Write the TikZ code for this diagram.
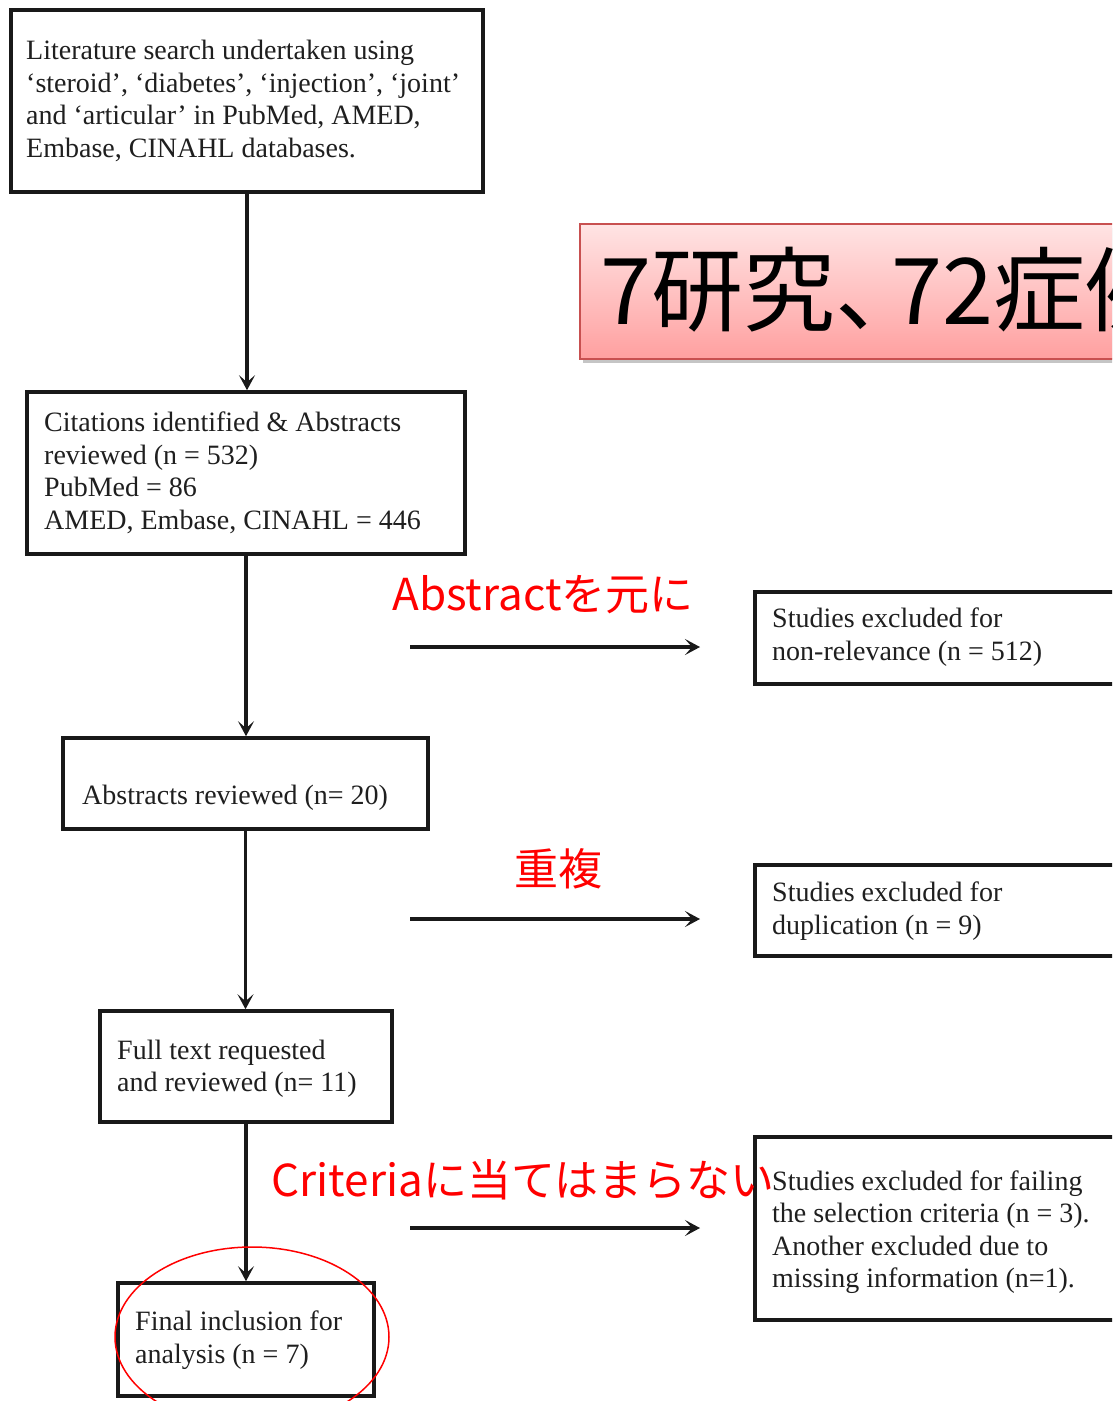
\documentclass[tikz,border=0pt]{standalone}
\usepackage{fontspec}
\setmainfont{Liberation Serif}
\newfontfamily\cjk{Noto Sans CJK JP}
\usetikzlibrary{arrows.meta,shadows,shapes.geometric}
\definecolor{bantop}{RGB}{255,228,228}
\definecolor{banbot}{RGB}{255,160,160}
\definecolor{banedge}{RGB}{200,80,80}
\begin{document}
\begin{tikzpicture}[x=1pt,y=-1pt,
  box/.style={draw=black!90, line width=3.6pt, inner sep=0pt},
  txt/.style={anchor=west, inner sep=0pt, align=left, font=\fontsize{28}{32.5}\selectfont, text=black!88},
  flow/.style={line width=3.4pt, draw=black!90, -{Stealth[length=15pt,width=16pt,inset=7pt]}},
  redlbl/.style={text=red, font=\cjk\fontsize{44}{50}\selectfont, inner sep=0pt}
]
\useasboundingbox (0,0) rectangle (1112,1401);
\clip (0,0) rectangle (1112,1401);
\fill[white] (0,0) rectangle (1112,1401);

% left column boxes
\node[box, minimum width=472pt, minimum height=182pt] (b1) at (247,101) {};
\node[txt] (t1) at (26,101) {Literature search undertaken using\\ ‘steroid’, ‘diabetes’, ‘injection’, ‘joint’\\ and ‘articular’ in PubMed, AMED,\\ Embase, CINAHL databases.};

\node[box, minimum width=438pt, minimum height=162pt] (b2) at (246,473) {};
\node[txt] (t2) at (44,473) {Citations identified \& Abstracts\\ reviewed (n = 532)\\ PubMed = 86\\ AMED, Embase, CINAHL = 446};

\node[box, minimum width=365pt, minimum height=91pt] (b3) at (245.5,783.5) {};
\node[txt] (t3) at (82,798) {Abstracts reviewed (n= 20)};

\node[box, minimum width=292pt, minimum height=111pt] (b4) at (246,1066.5) {};
\node[txt] (t4) at (117,1069) {Full text requested\\ and reviewed (n= 11)};

\node[box, minimum width=256pt, minimum height=113pt] (b5) at (246,1339.5) {};
\node[txt] (t5) at (135,1340) {Final inclusion for\\ analysis (n = 7)};

% right column boxes
\node[box, minimum width=380pt, minimum height=92pt] (r1) at (945,638) {};
\node[txt] (r1t) at (772,637) {Studies excluded for\\ non-relevance (n = 512)};

\node[box, minimum width=380pt, minimum height=91pt] (r2) at (945,910.5) {};
\node[txt] (r2t) at (772,911) {Studies excluded for\\ duplication (n = 9)};

\node[box, minimum width=380pt, minimum height=183pt] (r3) at (945,1228.5) {};
\node[txt] (r3t) at (772,1232) {Studies excluded for failing\\ the selection criteria (n = 3).\\ Another excluded due to\\ missing information (n=1).};

% vertical connectors
\draw[flow] (b1.south) -- (b1.south |- b2.north);
\draw[flow] (b2.south) -- (b2.south |- b3.north);
\draw[flow] (b3.south) -- (b3.south |- b4.north);
\draw[flow] (b4.south) -- (b4.south |- b5.north);

% horizontal arrows
\coordinate (h1a) at (410,647); \coordinate (h1b) at (700,647);
\coordinate (h2a) at (410,919); \coordinate (h2b) at (700,919);
\coordinate (h3a) at (410,1228); \coordinate (h3b) at (700,1228);
\draw[flow] (h1a) -- (h1b);
\draw[flow] (h2a) -- (h2b);
\draw[flow] (h3a) -- (h3b);

% red annotations
\node[redlbl] (l1) at (543,595) {Abstractを元に};
\node[redlbl] (l2) at (558,869) {重複};
\node[redlbl] (l3) at (523,1180) {Criteriaに当てはまらない};

\node[draw=red, line width=1.5pt, ellipse, minimum width=274pt, minimum height=180pt, inner sep=0pt] (circ) at (252,1337) {};

% banner
\node[anchor=north west, minimum width=620pt, minimum height=135pt, draw=banedge, line width=1.6pt,
      top color=bantop, bottom color=banbot,
      drop shadow={shadow xshift=3pt, shadow yshift=-4pt, opacity=0.45}] (bn) at (579,223) {};
\node[anchor=base west, inner sep=0pt, font=\cjk\fontsize{92}{100}\selectfont] (bt) at (600,324) {7研究、\kern-36pt 72症例};
\end{tikzpicture}
\end{document}
